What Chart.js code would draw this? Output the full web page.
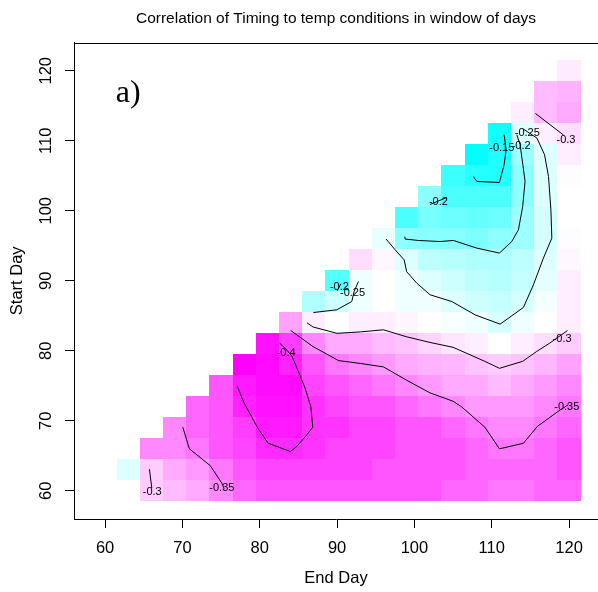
<!DOCTYPE html>
<html>
<head>
<meta charset="utf-8">
<script src="https://cdn.jsdelivr.net/npm/chart.js@4"></script>
<style>
html,body{margin:0;padding:0;background:#fff;overflow:hidden}
canvas{display:block}
</style>
</head>
<body>
<canvas id="c" width="598" height="592"></canvas>
<script>
// ---- data ----
const endDays   = [63,66,69,72,75,78,81,84,87,90,93,96,99,102,105,108,111,114,117,120];
const startDays = [60,63,66,69,72,75,78,81,84,87,90,93,96,99,102,105,108,111,114,117,120];
const xTicks = [60,70,80,90,100,110,120];
const yTicks = [60,70,80,90,100,110,120];

// correlation per start-day row, aligned with endDays (null = no window)
const row60  = [null,-0.300,-0.310,-0.320,-0.340,-0.360,-0.370,-0.370,-0.370,-0.370,-0.370,-0.370,-0.370,-0.370,-0.360,-0.360,-0.350,-0.350,-0.360,-0.360];
const row63  = [-0.252,-0.300,-0.320,-0.330,-0.350,-0.370,-0.380,-0.380,-0.380,-0.380,-0.380,-0.370,-0.370,-0.370,-0.370,-0.360,-0.360,-0.360,-0.360,-0.370];
const row66  = [null,-0.340,-0.340,-0.350,-0.370,-0.380,-0.395,-0.395,-0.390,-0.380,-0.380,-0.380,-0.370,-0.370,-0.370,-0.360,-0.350,-0.350,-0.360,-0.370];
const row69  = [null,null,-0.340,-0.360,-0.370,-0.385,-0.405,-0.405,-0.390,-0.390,-0.380,-0.380,-0.370,-0.370,-0.360,-0.350,-0.340,-0.340,-0.350,-0.360];
const row72  = [null,null,null,-0.360,-0.370,-0.400,-0.410,-0.410,-0.390,-0.380,-0.370,-0.370,-0.360,-0.350,-0.340,-0.330,-0.330,-0.330,-0.340,-0.350];
const row75  = [null,null,null,null,-0.370,-0.405,-0.415,-0.415,-0.380,-0.370,-0.360,-0.350,-0.340,-0.330,-0.320,-0.320,-0.310,-0.320,-0.330,-0.340];
const row78  = [null,null,null,null,null,-0.420,-0.415,-0.400,-0.370,-0.350,-0.340,-0.330,-0.320,-0.315,-0.313,-0.305,-0.300,-0.305,-0.313,-0.325];
const row81  = [null,null,null,null,null,null,-0.410,-0.385,-0.340,-0.320,-0.320,-0.310,-0.305,-0.295,-0.285,-0.280,-0.270,-0.280,-0.290,-0.300];
const row84  = [null,null,null,null,null,null,null,-0.325,-0.280,-0.270,-0.280,-0.280,-0.276,-0.270,-0.266,-0.261,-0.248,-0.261,-0.270,-0.280];
const row87  = [null,null,null,null,null,null,null,null,-0.226,-0.243,-0.261,-0.270,-0.261,-0.261,-0.252,-0.243,-0.238,-0.247,-0.265,-0.280];
const row90  = [null,null,null,null,null,null,null,null,null,-0.176,-0.261,-0.270,-0.261,-0.252,-0.243,-0.234,-0.230,-0.238,-0.256,-0.280];
const row93  = [null,null,null,null,null,null,null,null,null,null,-0.290,-0.275,-0.252,-0.234,-0.230,-0.226,-0.226,-0.234,-0.252,-0.275];
const row96  = [null,null,null,null,null,null,null,null,null,null,null,-0.258,-0.208,-0.204,-0.204,-0.199,-0.208,-0.217,-0.247,-0.272];
const row99  = [null,null,null,null,null,null,null,null,null,null,null,null,-0.172,-0.195,-0.190,-0.185,-0.190,-0.217,-0.247,-0.270];
const row102 = [null,null,null,null,null,null,null,null,null,null,null,null,null,-0.208,-0.172,-0.172,-0.172,-0.208,-0.252,-0.270];
const row105 = [null,null,null,null,null,null,null,null,null,null,null,null,null,null,-0.163,-0.152,-0.148,-0.208,-0.252,-0.272];
const row108 = [null,null,null,null,null,null,null,null,null,null,null,null,null,null,null,-0.130,-0.148,-0.217,-0.252,-0.280];
const row111 = [null,null,null,null,null,null,null,null,null,null,null,null,null,null,null,null,-0.140,-0.252,-0.280,-0.290];
const row114 = [null,null,null,null,null,null,null,null,null,null,null,null,null,null,null,null,null,-0.280,-0.310,-0.320];
const row117 = [null,null,null,null,null,null,null,null,null,null,null,null,null,null,null,null,null,null,-0.310,-0.315];
const row120 = [null,null,null,null,null,null,null,null,null,null,null,null,null,null,null,null,null,null,null,-0.282];
const corrRows = [row60,row63,row66,row69,row72,row75,row78,row81,row84,row87,row90,row93,row96,row99,row102,row105,row108,row111,row114,row117,row120];

// contour lines [endDay, startDay]
const c040      = [[82.57,81.1],[83.54,80.07],[84.18,79.19],[85.0,77.04],[85.86,74.67],[86.6,72.04],[86.86,69.1],[86.08,68.0],[84.79,66.33],[83.96,65.61],[81.08,66.81],[79.75,68.96],[77.98,72.53],[77.07,75.0]];
const c035mid   = [[84.0,82.9],[86.9,80.6],[90.2,78.6],[93.0,78.2],[96.0,77.7],[99.0,75.8],[102.0,74.0],[105.0,72.8],[106.1,72.0],[109.1,69.1],[111.0,66.0],[114.1,66.8],[115.9,69.2],[118.9,71.6],[119.9,72.3]];
const c035low   = [[70.05,69.1],[70.9,66.0],[73.6,63.6],[75.1,61.1],[75.4,60.3]];
const c030mid   = [[86.1,84.0],[86.9,83.4],[90.0,82.5],[93.0,82.7],[96.0,83.0],[99.0,82.0],[102.0,81.2],[105.0,80.5],[109.1,78.5],[111.0,77.5],[114.0,78.5],[115.8,79.9],[117.5,81.1],[119.8,82.9]];
const c030low   = [[65.73,63.1],[66.04,60.4]];
const c030top   = [[115.65,113.9],[119.3,110.8]];
const c025small = [[86.94,85.47],[89.96,85.86],[91.9,87.04],[92.2,88.47],[92.76,89.9]];
const c025big   = [[96.34,95.96],[97.5,94.43],[98.67,93.0],[99.0,91.3],[100.3,89.67],[102.03,88.0],[104.83,87.04],[107.85,85.14],[111.08,83.81],[114.1,86.2],[115.39,89.43],[116.68,93.24],[117.77,96.1],[117.65,100.14],[117.34,104.9],[116.83,108.0],[115.84,110.39],[114.03,111.71]];
const c020small = [[90.04,88.6],[90.48,89.57]];
const c020top   = [[102.03,100.9],[104.19,101.9]];
const c020big   = [[98.75,96.3],[98.8,95.96],[100.52,95.76],[103.32,95.61],[105.04,95.76],[108.07,94.67],[110.99,93.96],[112.59,95.61],[113.45,97.29],[114.0,100.6],[114.31,104.2],[114.02,106.6],[113.67,109.43],[113.24,110.86]];
const c015      = [[111.6,110.86],[111.86,108.71],[111.6,106.57],[110.99,104.04],[108.07,104.19],[107.63,104.9]];
const contourLines = [c040,c035mid,c035low,c030mid,c030low,c030top,c025small,c025big,c020small,c020top,c020big,c015];

const labelTexts = ['-0.4','-0.35','-0.35','-0.3','-0.3','-0.3','-0.25','-0.25','-0.2','-0.2','-0.2','-0.15'];
const labelX     = [83.4,119.7,75.1,119.1,66.1,119.6,92.0,114.6,90.3,103.1,113.8,111.3];
const labelY     = [79.7,72.0,60.4,81.7,59.9,110.1,88.2,111.1,89.1,101.2,109.2,109.0];

const titleText = 'Correlation of Timing to temp conditions in window of days';
const panelText = 'a)';

// ---- rendering ----
const SANS = "'Liberation Sans', Arial, Helvetica, sans-serif";
Chart.defaults.font.family = SANS;
Chart.defaults.color = '#000';

function corrColor(v){
  if (v <= -0.27){
    const f = Math.min(1, (-0.27 - v) / 0.15);
    return 'rgb(255,' + Math.round(255*(1-f)) + ',255)';
  }
  const g = Math.min(1, (v + 0.27) / 0.14);
  return 'rgb(' + Math.round(255*(1-g)) + ',255,255)';
}

const heatPlugin = {
  id: 'heat',
  beforeDatasetsDraw(chart){
    const {ctx, scales:{x, y}} = chart;
    ctx.save();
    startDays.forEach((s, i) => {
      const row = corrRows[i];
      endDays.forEach((e, j) => {
        const v = row[j];
        if (v === null || v === undefined) return;
        const x0 = Math.round(x.getPixelForValue(e - 1.5));
        const x1 = Math.round(x.getPixelForValue(e + 1.5));
        const y0 = Math.round(y.getPixelForValue(s + 1.5));
        const y1 = Math.round(y.getPixelForValue(s - 1.5));
        ctx.fillStyle = corrColor(v);
        ctx.fillRect(x0, y0, x1 - x0, y1 - y0);
      });
    });
    ctx.restore();
  },
  afterDatasetsDraw(chart){
    const {ctx, scales:{x, y}} = chart;
    ctx.save();
    ctx.fillStyle = '#000';
    ctx.font = '11px ' + SANS;
    ctx.textAlign = 'center';
    ctx.textBaseline = 'middle';
    labelTexts.forEach((t, i) => {
      ctx.fillText(t, x.getPixelForValue(labelX[i]), y.getPixelForValue(labelY[i]));
    });
    ctx.font = "32px 'Liberation Serif', 'Times New Roman', serif";
    ctx.fillText(panelText, x.getPixelForValue(63), y.getPixelForValue(116.7));
    ctx.restore();
  },
  afterDraw(chart){
    const {ctx, chartArea} = chart;
    ctx.save();
    ctx.strokeStyle = '#000';
    ctx.lineWidth = 1;
    ctx.beginPath();
    ctx.moveTo(chartArea.left, Math.round(chartArea.top) + 0.5);
    ctx.lineTo(chartArea.right, Math.round(chartArea.top) + 0.5);
    ctx.stroke();
    ctx.restore();
  }
};

const datasets = contourLines.map((pts, i) => ({
  label: 'contour ' + labelTexts[i],
  data: pts.map(p => ({x: p[0], y: p[1]})),
  showLine: true,
  borderColor: '#000',
  backgroundColor: '#000',
  borderWidth: 1,
  pointRadius: 0,
  pointHoverRadius: 0,
  tension: 0,
  fill: false
}));

new Chart(document.getElementById('c'), {
  type: 'scatter',
  data: { datasets },
  options: {
    responsive: false,
    animation: false,
    devicePixelRatio: 1,
    layout: { padding: 0 },
    plugins: {
      legend: { display: false },
      tooltip: { enabled: false },
      title: {
        display: true,
        text: titleText,
        fullSize: false,
        color: '#000',
        font: { size: 15.5, weight: 'normal', family: SANS },
        padding: { top: 9, bottom: 15 }
      }
    },
    scales: {
      x: {
        type: 'linear',
        min: 55.98,
        max: 123.74,
        afterBuildTicks: (s) => { s.ticks = xTicks.map(v => ({value: v})); },
        afterFit: (s) => { s.height = 73; },
        ticks: { autoSkip: false, maxRotation: 0, minRotation: 0, padding: 11, color: '#000', font: { size: 16.5 } },
        grid: { drawOnChartArea: false, drawTicks: true, tickLength: 9, color: '#000', tickColor: '#000', tickWidth: 1 },
        border: { display: true, color: '#000', width: 1 },
        title: { display: true, text: 'End Day', color: '#000', font: { size: 16.5 }, padding: { top: 0, bottom: 4 } }
      },
      y: {
        type: 'linear',
        min: 55.98,
        max: 124.02,
        afterBuildTicks: (s) => { s.ticks = yTicks.map(v => ({value: v})); },
        afterFit: (s) => { s.width = 74; },
        ticks: { autoSkip: false, minRotation: 90, maxRotation: 90, crossAlign: 'center', padding: 5, color: '#000', font: { size: 16.5 } },
        grid: { drawOnChartArea: false, drawTicks: true, tickLength: 9, color: '#000', tickColor: '#000', tickWidth: 1 },
        border: { display: true, color: '#000', width: 1 },
        title: { display: true, text: 'Start Day', color: '#000', font: { size: 16.5 }, padding: { top: 8, bottom: 0 } }
      }
    }
  },
  plugins: [heatPlugin]
});
</script>
</body>
</html>
